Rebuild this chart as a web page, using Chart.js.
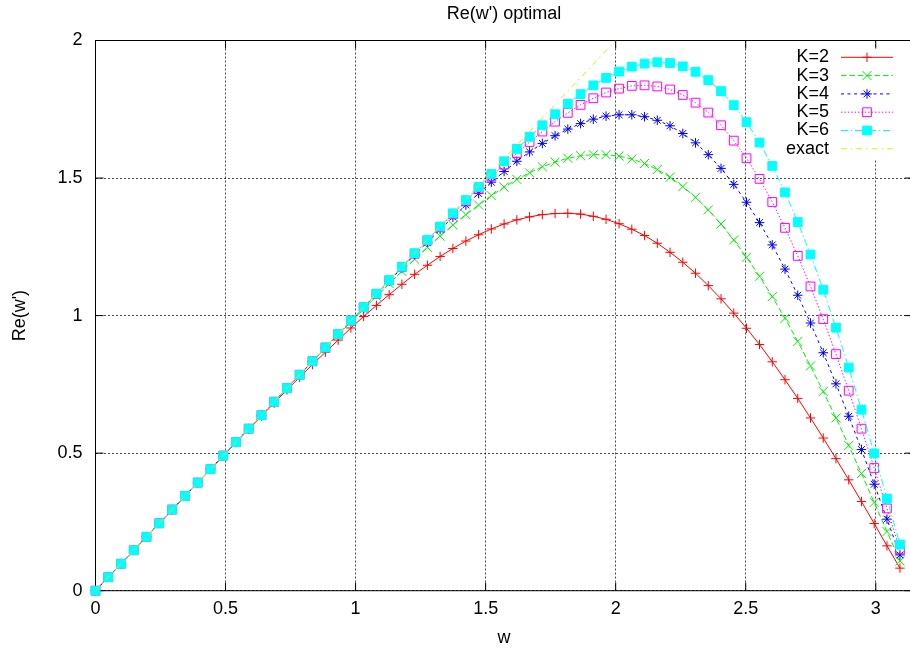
<!DOCTYPE html>
<html>
<head>
<meta charset="utf-8">
<script src="https://cdn.jsdelivr.net/npm/chart.js@4.4.1/dist/chart.umd.min.js"></script>
<style>
  html, body { margin: 0; padding: 0; overflow: hidden; background: #fff; width: 910px; height: 649px; }
  #wrap { width: 920px; height: 649px; }
  canvas { display: block; }
</style>
</head>
<body>
<div id="wrap"><canvas id="c" width="920" height="649"></canvas></div>
<script>
// ---------------- data ----------------
const W = [0,0.049,0.098,0.147,0.196,0.245,0.295,0.344,0.393,0.442,0.491,0.540,0.589,0.638,0.687,0.736,0.785,0.834,0.884,0.933,0.982,1.031,1.080,1.129,1.178,1.227,1.276,1.325,1.374,1.424,1.473,1.522,1.571,1.620,1.669,1.718,1.767,1.816,1.865,1.914,1.963,2.013,2.062,2.111,2.160,2.209,2.258,2.307,2.356,2.405,2.454,2.503,2.553,2.602,2.651,2.700,2.749,2.798,2.847,2.896,2.945,2.994,3.043,3.093];

const K2 = [0,0.049,0.098,0.147,0.196,0.245,0.294,0.343,0.392,0.441,0.490,0.538,0.587,0.635,0.682,0.730,0.776,0.822,0.867,0.911,0.955,0.997,1.037,1.076,1.114,1.150,1.183,1.215,1.244,1.271,1.294,1.315,1.333,1.348,1.359,1.367,1.371,1.372,1.369,1.361,1.350,1.334,1.314,1.291,1.263,1.230,1.194,1.154,1.109,1.061,1.009,0.954,0.895,0.832,0.767,0.699,0.628,0.555,0.480,0.403,0.324,0.244,0.163,0.082];

const K3 = [0,0.049,0.098,0.147,0.196,0.245,0.295,0.344,0.393,0.442,0.491,0.540,0.589,0.638,0.687,0.736,0.784,0.833,0.881,0.929,0.977,1.024,1.070,1.116,1.161,1.205,1.248,1.289,1.329,1.367,1.402,1.436,1.467,1.495,1.519,1.541,1.558,1.572,1.581,1.585,1.585,1.580,1.569,1.553,1.531,1.503,1.469,1.430,1.384,1.333,1.275,1.212,1.143,1.069,0.990,0.906,0.817,0.724,0.628,0.528,0.426,0.321,0.215,0.108];

const K4 = [0,0.049,0.098,0.147,0.196,0.245,0.295,0.344,0.393,0.442,0.491,0.540,0.589,0.638,0.687,0.736,0.785,0.834,0.883,0.932,0.981,1.029,1.078,1.126,1.173,1.221,1.267,1.313,1.358,1.402,1.444,1.485,1.524,1.561,1.595,1.626,1.654,1.678,1.698,1.714,1.725,1.730,1.730,1.723,1.710,1.690,1.662,1.628,1.585,1.535,1.477,1.412,1.338,1.257,1.169,1.074,0.973,0.865,0.752,0.634,0.513,0.387,0.260,0.130];

const K5 = [0,0.049,0.098,0.147,0.196,0.245,0.295,0.344,0.393,0.442,0.491,0.540,0.589,0.638,0.687,0.736,0.785,0.834,0.884,0.933,0.982,1.030,1.079,1.128,1.177,1.225,1.273,1.321,1.368,1.415,1.461,1.506,1.549,1.591,1.631,1.669,1.705,1.737,1.766,1.790,1.811,1.825,1.835,1.837,1.833,1.822,1.802,1.774,1.738,1.692,1.636,1.572,1.497,1.413,1.319,1.217,1.106,0.987,0.860,0.727,0.589,0.446,0.299,0.150];

const K6 = [0,0.049,0.098,0.147,0.196,0.245,0.295,0.344,0.393,0.442,0.491,0.540,0.589,0.638,0.687,0.736,0.785,0.834,0.884,0.933,0.982,1.031,1.080,1.129,1.178,1.227,1.275,1.324,1.372,1.420,1.468,1.515,1.561,1.606,1.650,1.692,1.732,1.770,1.805,1.837,1.864,1.887,1.905,1.916,1.921,1.918,1.906,1.886,1.856,1.816,1.765,1.703,1.629,1.544,1.448,1.340,1.222,1.094,0.956,0.811,0.658,0.499,0.335,0.168];

const EXACT_W = [0, 2];
const EXACT_Y = [0, 2];

const SERIES_NAMES = ['K=2', 'K=3', 'K=4', 'K=5', 'K=6', 'exact'];
const X_TICKS = [0, 0.5, 1, 1.5, 2, 2.5, 3];
const Y_TICKS = [0, 0.5, 1, 1.5, 2];
const X_MIN = 0, X_MAX = 3.14159, Y_MIN = 0, Y_MAX = 2;
const TITLE = "Re(w') optimal";
const X_TITLE = 'w';
const Y_TITLE = "Re(w')";

// ---------------- styles ----------------
const FONT = "'Liberation Sans', Arial, Helvetica, sans-serif";
const FS = 18;
const STYLES = [
  { color: '#ff0000', dash: [],                 point: 'cross',    r: 4.7, fill: false },
  { color: '#00ee00', dash: [5.6, 2.8],         point: 'crossRot', r: 6.4, fill: false },
  { color: '#0000ff', dash: [3, 3.5],           point: 'star',     r: 4.8, fill: false },
  { color: '#ff00ff', dash: [1.4, 2],           point: 'rect',     r: 6.2, fill: false },
  { color: '#00ffff', dash: [7, 2.8, 1.4, 2.8], point: 'rect',     r: 6.2, fill: true  },
  { color: '#e8e800', dash: [5.6, 4.2, 1.4, 4.2], point: null,     r: 0,   fill: false }
];

Chart.defaults.font.family = FONT;
Chart.defaults.font.size = FS;
Chart.defaults.color = '#000';

const SERIES = [K2, K3, K4, K5, K6];
const datasets = SERIES.map((ys, i) => ({
  label: SERIES_NAMES[i],
  data: W.map((x, j) => ({ x: x, y: ys[j] })),
  borderColor: STYLES[i].color,
  backgroundColor: STYLES[i].color,
  borderWidth: 1,
  borderDash: STYLES[i].dash,
  pointStyle: STYLES[i].point,
  pointRadius: STYLES[i].r,
  pointHoverRadius: STYLES[i].r,
  pointBorderColor: STYLES[i].color,
  pointBackgroundColor: STYLES[i].fill ? STYLES[i].color : 'rgba(0,0,0,0)',
  pointBorderWidth: 1,
  tension: 0,
  clip: false,
  order: 5 - i
}));
datasets.push({
  label: SERIES_NAMES[5],
  data: EXACT_W.map((x, j) => ({ x: x, y: EXACT_Y[j] })),
  borderColor: STYLES[5].color,
  backgroundColor: STYLES[5].color,
  borderWidth: 1,
  borderDash: STYLES[5].dash,
  pointRadius: 0,
  pointHoverRadius: 0,
  tension: 0,
  order: 0
});

function drawMark(ctx, st, x, y) {
  if (!st.point) return;
  ctx.save();
  ctx.setLineDash([]);
  ctx.strokeStyle = st.color;
  ctx.fillStyle = st.color;
  ctx.lineWidth = 1;
  const r = st.r, d = r * Math.SQRT1_2;
  ctx.beginPath();
  if (st.point === 'cross' || st.point === 'star') {
    ctx.moveTo(x - r, y); ctx.lineTo(x + r, y);
    ctx.moveTo(x, y - r); ctx.lineTo(x, y + r);
  }
  if (st.point === 'crossRot' || st.point === 'star') {
    const q = st.point === 'star' ? d : d;
    ctx.moveTo(x - q, y - q); ctx.lineTo(x + q, y + q);
    ctx.moveTo(x - q, y + q); ctx.lineTo(x + q, y - q);
  }
  if (st.point === 'rect') {
    ctx.rect(x - d, y - d, 2 * d, 2 * d);
    if (st.fill) ctx.fill();
  }
  ctx.stroke();
  ctx.restore();
}

const gnuplotDecor = {
  id: 'gnuplotDecor',
  beforeDatasetsDraw(chart) {
    const { ctx, chartArea: a, scales: { x, y } } = chart;
    ctx.save();
    // opaque key area
    ctx.fillStyle = '#fff';
    ctx.fillRect(792, 47, 113, 113);
    // frame
    ctx.strokeStyle = '#000';
    ctx.lineWidth = 1;
    ctx.setLineDash([]);
    ctx.strokeRect(a.left, a.top, a.right - a.left, a.bottom - a.top);
    // inward ticks (mirrored)
    const TL = 8;
    ctx.beginPath();
    X_TICKS.forEach(v => {
      const px = x.getPixelForValue(v);
      ctx.moveTo(px, a.bottom); ctx.lineTo(px, a.bottom - TL);
      ctx.moveTo(px, a.top); ctx.lineTo(px, a.top + TL);
    });
    Y_TICKS.forEach(v => {
      const py = y.getPixelForValue(v);
      ctx.moveTo(a.left, py); ctx.lineTo(a.left + TL, py);
      ctx.moveTo(a.right, py); ctx.lineTo(a.right - TL, py);
    });
    ctx.stroke();
    ctx.restore();
  },
  afterDatasetsDraw(chart) {
    const { ctx } = chart;
    ctx.save();
    const textRight = 829, lx1 = 841, lx2 = 893, mx = 867, y0 = 57.3, dy = 18.3;
    ctx.font = FS + 'px ' + FONT;
    ctx.textAlign = 'right';
    ctx.textBaseline = 'middle';
    SERIES_NAMES.forEach((name, i) => {
      const yy = y0 + i * dy;
      ctx.fillStyle = '#000';
      ctx.fillText(name, textRight, yy);
      const st = STYLES[i];
      ctx.save();
      ctx.strokeStyle = st.color;
      ctx.lineWidth = 1;
      ctx.setLineDash(st.dash);
      ctx.beginPath();
      ctx.moveTo(lx1, yy); ctx.lineTo(lx2, yy);
      ctx.stroke();
      ctx.restore();
      drawMark(ctx, st, mx, yy);
    });
    ctx.restore();
  }
};

new Chart(document.getElementById('c'), {
  type: 'scatter',
  data: { datasets: datasets },
  options: {
    responsive: false,
    animation: false,
    events: [],
    showLine: true,
    layout: { padding: { left: 0, right: 5, top: 0, bottom: 0 } },
    plugins: {
      legend: { display: false },
      tooltip: { enabled: false },
      title: {
        display: true,
        text: TITLE,
        fullSize: false,
        color: '#000',
        font: { size: FS, weight: 'normal', family: FONT },
        padding: { top: 3.7, bottom: 15.2 }
      }
    },
    scales: {
      x: {
        type: 'linear',
        min: X_MIN,
        max: X_MAX,
        afterBuildTicks: s => { s.ticks = X_TICKS.map(v => ({ value: v })); },
        afterFit: s => { s.height = 58.3; },
        ticks: { padding: 8, color: '#000', maxRotation: 0, autoSkip: false,
                 callback: v => String(v) },
        grid: { color: 'rgba(0,0,0,0.7)', lineWidth: 1, drawTicks: false },
        border: { display: false, dash: [2, 2] },
        title: { display: true, text: X_TITLE, color: '#000', padding: { top: 0, bottom: 0 } }
      },
      y: {
        type: 'linear',
        min: Y_MIN,
        max: Y_MAX,
        afterBuildTicks: s => { s.ticks = Y_TICKS.map(v => ({ value: v })); },
        afterFit: s => { s.width = 95.5; },
        ticks: { padding: 13, color: '#000', callback: v => String(v) },
        grid: { color: 'rgba(0,0,0,0.7)', lineWidth: 1, drawTicks: false },
        border: { display: false, dash: [2, 2] },
        title: { display: true, text: Y_TITLE, color: '#000', padding: { top: 9, bottom: 0 } }
      }
    }
  },
  plugins: [gnuplotDecor]
});
</script>
</body>
</html>
